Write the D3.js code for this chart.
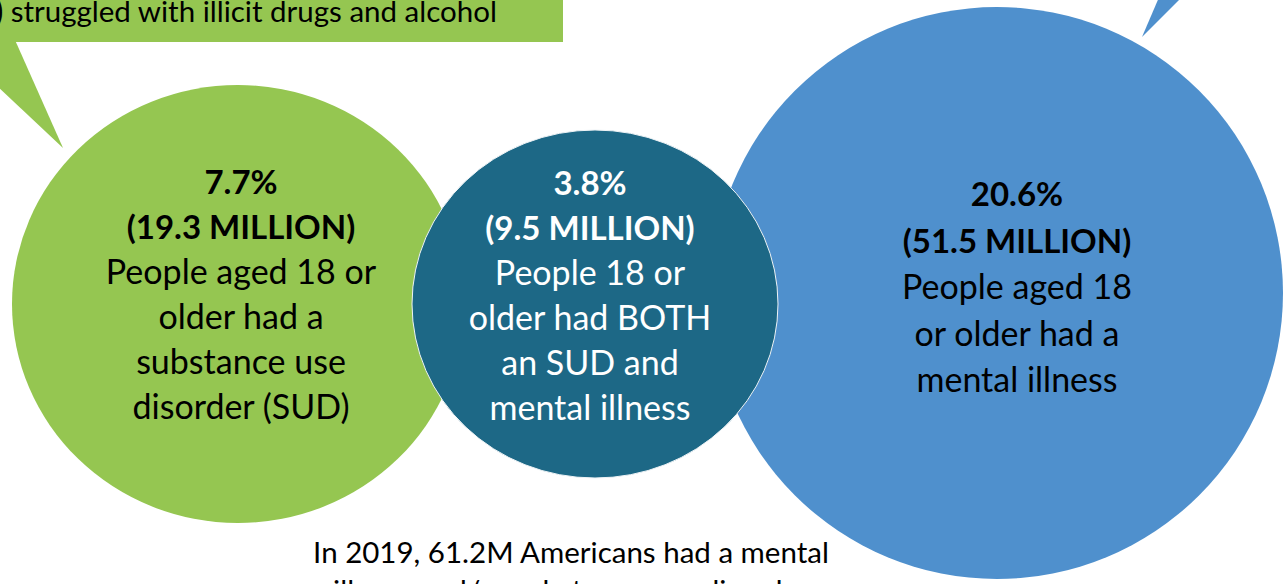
<!DOCTYPE html>
<html>
<head>
<meta charset="utf-8">
<script src="https://cdn.jsdelivr.net/npm/d3@7"></script>
<style>
  html, body { margin: 0; padding: 0; background: #fff; overflow: hidden; }
  svg { display: block; }
  text { font-family: Lato, "Open Sans", sans-serif; }
</style>
</head>
<body>
<div id="vis"></div>
<script>
// Data
const groups = ['SUD', 'BOTH', 'AMI'];
const percents = [7.7, 3.8, 20.6];
const millions = [19.3, 9.5, 51.5];
const descriptions = [
  ['People aged 18 or', 'older had a', 'substance use', 'disorder (SUD)'],
  ['People 18 or', 'older had BOTH', 'an SUD and', 'mental illness'],
  ['People aged 18', 'or older had a', 'mental illness']
];
const calloutText = 'struggled with illicit drugs and alcohol';
const footerLines = ['In 2019, 61.2M Americans had a mental', 'illness and/or substance use disorder'];

// Layout (not data)
const width = 1283;
const height = 584;
const colors = {SUD: '#95c651', BOTH: '#1d6886', AMI: '#4f90cd'};
const textColors = {SUD: '#000', BOTH: '#fff', AMI: '#000'};
const centers = {SUD: [238, 304], BOTH: [595, 304], AMI: [997, 293]};
const radii = {SUD: [226, 219], BOTH: [183, 174], AMI: [286, 286]};
const textPos = {SUD: [241, 194], BOTH: [590, 195], AMI: [1017, 206]};
const lineH = {SUD: 45, BOTH: 45, AMI: 46.5};
const boldSize = 33;
const bodySize = 34;

const svg = d3.select('#vis').append('svg')
    .attr('width', width)
    .attr('height', height);

// green callout box + pointer
svg.append('rect')
    .attr('x', -10).attr('y', -20)
    .attr('width', 573).attr('height', 62)
    .attr('fill', colors.SUD);
svg.append('path')
    .attr('d', d3.line()([[-52, 40], [15, 40], [63, 148]]))
    .attr('fill', colors.SUD);
svg.append('text')
    .attr('x', -5).attr('y', 22)
    .attr('font-size', 29.5)
    .attr('fill', '#000')
    .call(t => {
      t.append('tspan').attr('font-weight', 'bold').text(')');
      t.append('tspan').text(' ' + calloutText);
    });

// blue callout pointer
svg.append('path')
    .attr('d', d3.line()([[1160, -5], [1184, -5], [1142, 37]]))
    .attr('fill', colors.AMI);

// bubbles: green, blue, then teal on top
const order = ['SUD', 'AMI', 'BOTH'];
svg.selectAll('ellipse.bubble')
  .data(order)
  .join('ellipse')
    .attr('class', 'bubble')
    .attr('cx', d => centers[d][0])
    .attr('cy', d => centers[d][1])
    .attr('rx', d => radii[d][0])
    .attr('ry', d => radii[d][1])
    .attr('fill', d => colors[d])
    .attr('stroke', d => d === 'BOTH' ? '#eef3f6' : 'none')
    .attr('stroke-width', 1);

// labels
groups.forEach((g, i) => {
  const lines = [
    {t: percents[i] + '%', b: true},
    {t: '(' + millions[i] + ' MILLION)', b: true}
  ].concat(descriptions[i].map(t => ({t, b: false})));
  svg.append('g')
    .selectAll('text')
    .data(lines)
    .join('text')
      .attr('x', textPos[g][0])
      .attr('y', (d, j) => textPos[g][1] + j * lineH[g])
      .attr('text-anchor', 'middle')
      .attr('font-size', d => d.b ? boldSize : bodySize)
      .attr('font-weight', d => d.b ? 'bold' : 'normal')
      .attr('fill', textColors[g])
      .text(d => d.t);
});

// footer
svg.append('g')
  .selectAll('text')
  .data(footerLines)
  .join('text')
    .attr('x', 571)
    .attr('y', (d, i) => 563 + i * 38)
    .attr('text-anchor', 'middle')
    .attr('font-size', 29.5)
    .attr('fill', '#000')
    .text(d => d);
</script>
</body>
</html>
